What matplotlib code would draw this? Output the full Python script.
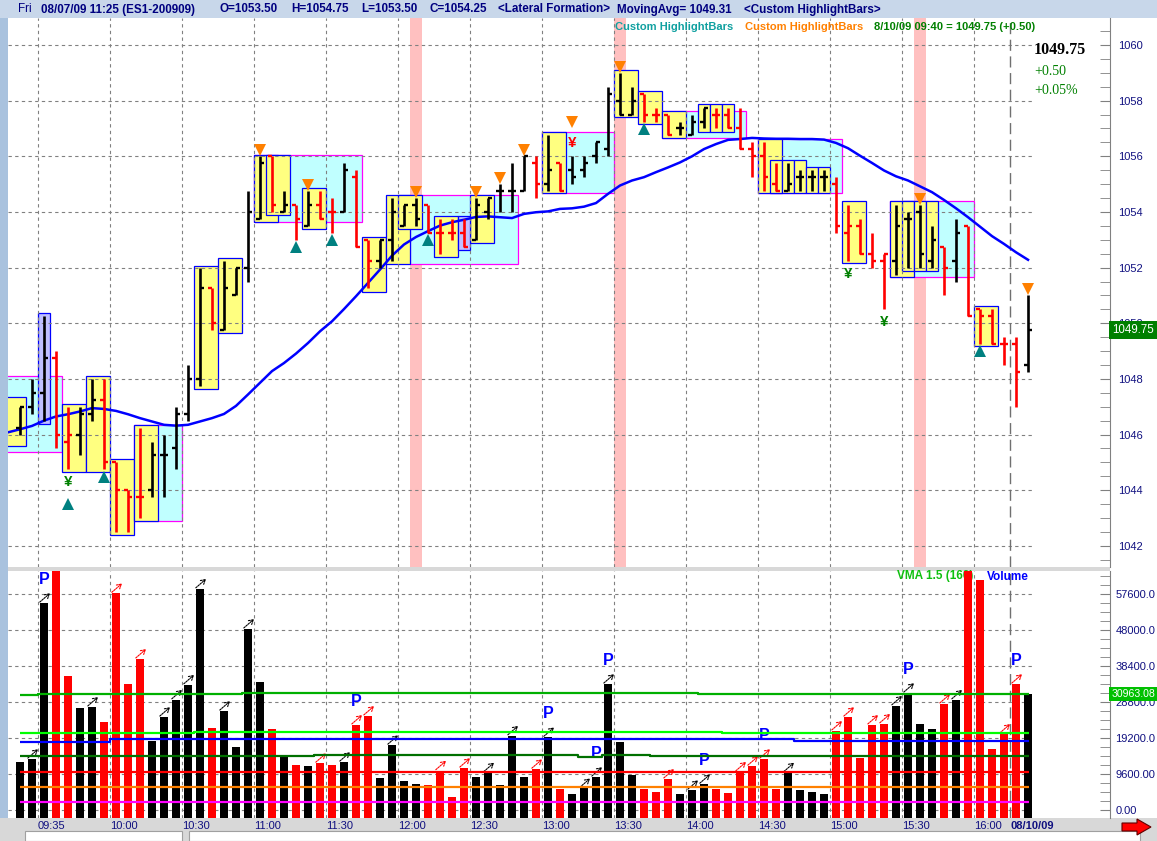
import matplotlib.pyplot as plt
import numpy as np
from matplotlib.patches import Rectangle, Polygon
from matplotlib.ticker import MultipleLocator
from matplotlib.transforms import blended_transform_factory

plt.rcParams['font.family'] = ['Liberation Sans', 'DejaVu Sans']

# ---- ES1-200909, 5 min bars (bar 0 .. 84) ----
opens = [1046.25, 1047.0, 1047.5, 1048.75, 1045.75, 1046.0, 1046.75, 1047.25, 1045.0, 1044.0,
         1043.75, 1044.0, 1045.25, 1045.5, 1046.75, 1048.0, 1051.25, 1049.75, 1051.0, 1052.0,
         1053.75, 1056.0, 1054.0, 1054.25, 1053.5, 1054.25, 1054.0, 1054.0, 1055.25, 1053.0,
         1052.25, 1053.0, 1053.5, 1054.25, 1054.25, 1053.25, 1053.25, 1053.25, 1053.0, 1054.0,
         1054.75, 1054.75, 1054.75, 1055.75, 1055.0, 1055.75, 1055.5, 1055.5, 1056.0, 1056.25,
         1058.0, 1057.5, 1058.25, 1057.5, 1057.5, 1057.0, 1056.75, 1057.25, 1057.5, 1057.5,
         1057.0, 1056.25, 1056.0, 1055.0, 1054.75, 1055.25, 1055.25, 1055.25, 1055.0, 1053.25,
         1053.5, 1052.5, 1052.25, 1052.25, 1053.75, 1054.0, 1052.25, 1052.75, 1052.25, 1053.5,
         1050.5, 1050.25, 1049.25, 1049.25, 1048.5]
highs = [1047.0, 1048.0, 1050.25, 1049.0, 1047.0, 1047.0, 1048.0, 1048.0, 1045.0, 1044.0,
         1046.25, 1045.75, 1046.0, 1047.0, 1048.5, 1052.0, 1051.25, 1052.25, 1052.0, 1054.75,
         1056.0, 1056.0, 1054.75, 1054.25, 1054.75, 1054.75, 1054.5, 1055.75, 1055.5, 1053.0,
         1053.0, 1054.5, 1054.25, 1054.5, 1054.25, 1053.75, 1053.75, 1053.75, 1054.5, 1054.5,
         1055.0, 1055.75, 1056.0, 1056.0, 1056.75, 1055.75, 1056.0, 1056.0, 1056.5, 1058.5,
         1059.0, 1058.5, 1058.25, 1057.75, 1057.5, 1057.25, 1057.5, 1057.75, 1057.75, 1057.75,
         1057.75, 1056.5, 1056.5, 1055.75, 1055.75, 1055.5, 1055.5, 1055.5, 1055.25, 1054.25,
         1053.75, 1053.25, 1052.5, 1054.25, 1054.0, 1054.25, 1053.5, 1052.75, 1053.75, 1053.5,
         1050.5, 1050.5, 1049.5, 1049.5, 1051.0]
lows = [1046.0, 1046.75, 1046.5, 1045.5, 1044.75, 1045.25, 1046.5, 1044.75, 1042.5, 1042.5,
        1043.0, 1043.75, 1043.75, 1044.75, 1046.5, 1047.75, 1049.75, 1049.75, 1051.0, 1051.5,
        1053.75, 1054.0, 1054.0, 1053.0, 1053.5, 1053.75, 1053.25, 1054.0, 1052.75, 1051.25,
        1052.0, 1052.25, 1053.5, 1053.5, 1053.25, 1052.5, 1053.0, 1052.75, 1053.0, 1053.75,
        1054.0, 1054.0, 1054.75, 1054.5, 1054.75, 1054.75, 1055.0, 1055.25, 1055.75, 1056.0,
        1057.5, 1057.5, 1057.25, 1057.25, 1056.75, 1056.75, 1056.75, 1057.0, 1057.0, 1057.0,
        1056.25, 1055.25, 1054.75, 1054.75, 1054.75, 1054.75, 1054.75, 1054.75, 1053.25, 1052.25,
        1052.5, 1052.0, 1050.5, 1051.75, 1052.0, 1052.0, 1052.0, 1051.0, 1051.5, 1050.25,
        1049.25, 1049.25, 1048.5, 1047.0, 1048.25]
closes = [1047.0, 1047.5, 1048.75, 1046.0, 1046.0, 1046.75, 1047.25, 1045.0, 1044.0, 1043.75,
          1043.75, 1045.25, 1045.25, 1046.75, 1048.0, 1051.25, 1050.0, 1051.25, 1052.0, 1054.0,
          1055.75, 1054.25, 1054.25, 1053.75, 1054.25, 1053.75, 1054.0, 1055.5, 1052.75, 1052.25,
          1053.0, 1054.0, 1054.25, 1053.75, 1053.25, 1053.25, 1053.25, 1052.75, 1054.25, 1054.5,
          1054.75, 1054.75, 1056.0, 1055.0, 1055.5, 1054.75, 1055.25, 1055.75, 1056.5, 1058.25,
          1057.5, 1058.0, 1057.5, 1057.5, 1056.75, 1057.0, 1057.25, 1057.75, 1057.5, 1057.0,
          1056.25, 1056.0, 1055.25, 1054.75, 1055.0, 1055.25, 1055.25, 1055.25, 1053.5, 1053.5,
          1052.5, 1052.25, 1052.5, 1053.5, 1053.75, 1052.5, 1053.0, 1052.0, 1053.25, 1050.25,
          1050.25, 1049.25, 1049.25, 1048.25, 1049.75]
# k = up tick (black), r = down tick (red)
bar_dir = ("kkkrrkkrrr" "rkkkkkrkkk" "krkrkrrkrr" "kkkkrrrrkk" "kkkrkrkkkk"
           "kkrrrkkkrr" "rrrrkkkkrr" "rrrkkkkrkr" "rrrrk")
volume = [12900, 13600, 55200, 63600, 35800, 27100, 27500, 23500, 57800, 33600,
          40300, 18500, 24800, 29400, 33400, 59000, 21800, 26400, 16800, 48300,
          34100, 21600, 14200, 12000, 11700, 12500, 12000, 12800, 22700, 25100,
          8600, 17300, 7700, 6900, 6700, 10500, 3500, 11200, 8800, 10000,
          6700, 19800, 8800, 10900, 19400, 5600, 4300, 5800, 8800, 33600,
          18200, 9300, 5600, 4800, 8300, 4300, 5300, 6900, 5600, 4500,
          10200, 11700, 13600, 5600, 10000, 5300, 4800, 4300, 21100, 24800,
          14000, 22700, 23000, 27800, 31200, 23000, 21600, 28300, 29400, 64500,
          61400, 16300, 20300, 33600, 31000]
# moving average, starting one bar before bar 0
mov_avg = [1046.08,
           1046.19, 1046.31, 1046.50, 1046.65, 1046.73, 1046.83, 1046.95, 1046.92, 1046.85, 1046.73,
           1046.59, 1046.47, 1046.35, 1046.32, 1046.35, 1046.47, 1046.59, 1046.74, 1047.03, 1047.44,
           1047.86, 1048.28, 1048.57, 1048.91, 1049.29, 1049.71, 1050.07, 1050.51, 1050.97, 1051.45,
           1051.93, 1052.43, 1052.83, 1053.10, 1053.31, 1053.51, 1053.63, 1053.72, 1053.82, 1053.84,
           1053.81, 1053.78, 1053.93, 1053.99, 1054.02, 1054.11, 1054.13, 1054.19, 1054.32, 1054.65,
           1054.95, 1055.13, 1055.25, 1055.43, 1055.60, 1055.78, 1056.00, 1056.26, 1056.44, 1056.59,
           1056.62, 1056.66, 1056.64, 1056.63, 1056.63, 1056.62, 1056.62, 1056.60, 1056.48, 1056.29,
           1056.02, 1055.76, 1055.49, 1055.28, 1055.13, 1054.92, 1054.71, 1054.43, 1054.13, 1053.81,
           1053.47, 1053.13, 1052.85, 1052.55, 1052.28]

# highlight boxes: (first bar, last bar, low, high)
cyan_boxes = [(-1, 3, 1045.36, 1048.1), (10, 13, 1042.9, 1046.35), (20, 28, 1053.64, 1056.06),
              (33, 41, 1052.13, 1054.62), (44, 49, 1054.67, 1056.86), (54, 60, 1056.65, 1057.62),
              (62, 68, 1054.68, 1056.62), (73, 79, 1051.65, 1054.38)]
yellow_boxes = [(-1, 0, 1045.6, 1047.34), (4, 5, 1044.65, 1047.09), (6, 7, 1044.65, 1048.1),
                (8, 9, 1042.39, 1045.11), (10, 11, 1042.9, 1046.35), (15, 16, 1047.64, 1052.07),
                (17, 18, 1049.65, 1052.35), (20, 21, 1053.64, 1056.06), (21, 22, 1053.89, 1056.06),
                (24, 25, 1053.39, 1054.86), (29, 30, 1051.13, 1053.1), (31, 32, 1052.13, 1054.62),
                (32, 33, 1053.39, 1054.62), (35, 36, 1052.38, 1053.87), (38, 39, 1052.87, 1054.62),
                (44, 45, 1054.67, 1056.86), (50, 51, 1057.4, 1059.11), (52, 53, 1057.16, 1058.36),
                (54, 55, 1056.65, 1057.62), (57, 57, 1056.89, 1057.88), (58, 58, 1056.89, 1057.88),
                (59, 59, 1056.89, 1057.88), (62, 63, 1054.68, 1056.62), (63, 63, 1054.68, 1055.86),
                (64, 64, 1054.68, 1055.86), (65, 65, 1054.68, 1055.86), (66, 66, 1054.68, 1055.6),
                (67, 67, 1054.68, 1055.6), (69, 70, 1052.17, 1054.38), (73, 74, 1051.65, 1054.38),
                (74, 74, 1051.89, 1054.38), (75, 75, 1051.89, 1054.38), (76, 76, 1051.89, 1054.38),
                (80, 81, 1049.17, 1050.61)]
lavender_boxes = [(2, 2, 1046.37, 1050.36), (37, 37, 1052.62, 1053.87)]
pink_bars = [33, 50, 75]
tri_down_bars = [20, 24, 33, 38, 40, 42, 46, 50, 75, 84]
tri_up_bars = [4, 7, 23, 26, 34, 52, 80]
yen_below_bars = [4, 69, 72]
yen_above_bars = [46]

arrow_bars = [1, 2, 6, 8, 10, 12, 13, 14, 15, 17, 19, 25, 27, 28, 29, 31, 35, 37, 39, 41, 43, 44,
              47, 48, 49, 54, 56, 57, 60, 61, 62, 64, 68, 69, 71, 72, 73, 74, 77, 78, 82, 83]
p_bars = [2, 28, 44, 48, 49, 57, 62, 74, 83]

# volume average bands (step start bar, value)
vma_green = [(0, 30700), (1.5, 31050), (18.5, 31250), (56.5, 30950), (68.5, 30800), (80.5, 30963)]
vma_lime = [(0, 20500), (14.5, 20900), (58.5, 20550)]
vma_blue = [(0, 18200), (7.5, 18900), (64.5, 18300)]
vma_dkgreen = [(0, 14400), (24.5, 14700), (46.5, 14150), (48.5, 14700), (52.5, 14400)]
vma_red = [(0, 10200), (74.5, 10050)]
vma_orange = [(0, 6100)]
vma_magenta = [(0, 2050)]

time_grid = [1.5 + 6 * k for k in range(14)]
time_labels = ['09:35', '10:00', '10:30', '11:00', '11:30', '12:00', '12:30', '13:00',
               '13:30', '14:00', '14:30', '15:00', '15:30', '16:00']
day_break = 82.5
price_ticks = list(range(1042, 1061, 2))
vol_ticks = [0, 9600, 19200, 28800, 38400, 48000, 57600]
vol_tick_labels = ['0.00', '9600.00', '19200.0', '28800.0', '38400.0', '48000.0', '57600.0']

# ---- figure ----
W, H = 1157, 841
fig = plt.figure(figsize=(W / 100, H / 100), dpi=100, facecolor='#d8d8d8')


def fig_rect(x0, y0, x1, y1, **kw):
    fig.add_artist(Rectangle((x0 / W, 1 - y1 / H), (x1 - x0) / W, (y1 - y0) / H,
                             transform=fig.transFigure, **kw))


fig_rect(0, 0, W, 18, facecolor='#c8d7ea', edgecolor='none', zorder=-5)
fig_rect(1110, 18, W, 818, facecolor='white', edgecolor='none', zorder=-5)
fig_rect(0, 18, 8, 818, facecolor='#a9c2de', edgecolor='none', zorder=-5)
fig_rect(25, 831, 182, 841, facecolor='white', edgecolor='#a0a0a0', lw=0.8, zorder=-4)
fig_rect(189, 831, 1140, 841, facecolor='white', edgecolor='#a0a0a0', lw=0.8, zorder=-4)

ax = fig.add_axes([8 / W, 1 - 567 / H, 1102 / W, 549 / H])
axv = fig.add_axes([8 / W, 1 - 818 / H, 1102 / W, 247 / H])

x = np.arange(len(closes))
cols = ['black' if d == 'k' else '#ff0000' for d in bar_dir]
xmin, xmax = -1.0, 90.83
grid_end = 84.3

# ---- price panel ----
ax.set_xlim(xmin, xmax)
ax.set_ylim(1041.24, 1060.97)
for b in pink_bars:
    ax.axvspan(b - 0.5, b + 0.5, color='#ffc0c0', lw=0, zorder=1)
for i0, i1, lo, hi in cyan_boxes:
    ax.add_patch(Rectangle((i0 - 0.5, lo), i1 - i0 + 1, hi - lo, facecolor='#c0ffff',
                           edgecolor='#ff00ff', lw=0.9, zorder=2))
for i0, i1, lo, hi in yellow_boxes:
    ax.add_patch(Rectangle((i0 - 0.5, lo), i1 - i0 + 1, hi - lo, facecolor='#ffff80',
                           edgecolor='#0000ff', lw=0.9, zorder=3))
for i0, i1, lo, hi in lavender_boxes:
    ax.add_patch(Rectangle((i0 - 0.5, lo), i1 - i0 + 1, hi - lo, facecolor='#c0c0ff',
                           edgecolor='#0000ff', lw=0.9, zorder=3))

ax.hlines(price_ticks, xmin, grid_end, colors='#808080', lw=0.8, linestyles=(0, (3, 3)), zorder=4)
ax.vlines(time_grid, 1041.24, 1060.97, colors='#808080', lw=0.8, linestyles=(0, (3, 3)), zorder=4)
ax.vlines([day_break], 1041.24, 1060.97, colors='#707070', lw=1.0, linestyles=(0, (8, 4)), zorder=4)

ax.plot(np.arange(-1, len(closes)), mov_avg, color='#0000ff', lw=1.8, zorder=5)

ax.vlines(x, lows, highs, colors=cols, lw=1.9, zorder=6)
ax.hlines(opens, x - 0.36, x, colors=cols, lw=1.7, zorder=6)
ax.hlines(closes, x, x + 0.36, colors=cols, lw=1.7, zorder=6)

for b in tri_down_bars:
    off = 1.22 if b in yen_above_bars else 0.22
    ax.plot(b, highs[b] + off, marker='v', color='#ff8000', ms=8, mew=0, ls='none', zorder=7)
for b in tri_up_bars:
    off = 1.23 if b in yen_below_bars else 0.26
    ax.plot(b, lows[b] - off, marker='^', color='#008080', ms=8, mew=0, ls='none', zorder=7)
for b in yen_below_bars:
    ax.text(b, lows[b] - 0.47, '¥', color='#008000', fontsize=11, fontweight='bold',
            ha='center', va='center', zorder=7)
for b in yen_above_bars:
    ax.text(b, highs[b] + 0.46, '¥', color='#ff0000', fontsize=11, fontweight='bold',
            ha='center', va='center', zorder=7)

ax.set_xticks([])
ax.yaxis.tick_right()
ax.set_yticks(price_ticks)
ax.yaxis.set_minor_locator(MultipleLocator(0.5))
ax.tick_params(axis='y', which='both', direction='in', length=7, color='#808080',
               labelcolor='#101080', labelsize=8, pad=6)
for s in ['left', 'top', 'bottom']:
    ax.spines[s].set_visible(False)
ax.spines['right'].set_color('#808080')
ax.spines['right'].set_linewidth(0.8)

trans_p = blended_transform_factory(ax.transAxes, ax.transData)
ax.text(1.002, closes[-1], '1049.75', transform=trans_p, color='white', fontsize=8.3,
        va='center', ha='left', zorder=10, clip_on=False,
        bbox=dict(facecolor='#008000', edgecolor='none', boxstyle='square,pad=0.28'))

# ---- volume panel ----
vbot, vtop = -2133, 63733
axv.set_xlim(xmin, xmax)
axv.set_ylim(vbot, vtop)
axv.hlines(vol_ticks, xmin, grid_end, colors='#808080', lw=0.8, linestyles=(0, (3, 3)), zorder=1)
axv.vlines(time_grid, vbot, vtop, colors='#808080', lw=0.8, linestyles=(0, (3, 3)), zorder=1)
axv.vlines([day_break], vbot, vtop, colors='#707070', lw=1.0, linestyles=(0, (8, 4)), zorder=1)

axv.text(897 / W, 1 - 576.5 / H, 'VMA 1.5 (160)', transform=fig.transFigure, color='#10c010',
         fontsize=8.5, fontweight='bold', va='center', ha='left', zorder=1.5)
axv.text(987 / W, 1 - 576.5 / H, 'Volume', transform=fig.transFigure, color='#0000ff',
         fontsize=8.5, fontweight='bold', va='center', ha='left', zorder=1.5)

vol = np.array(volume, dtype=float)
axv.bar(x, vol - vbot, bottom=vbot, width=0.62, color=cols, zorder=2)

for b in arrow_bars:
    axv.annotate('', xy=(b + 0.5, vol[b] + 2600), xytext=(b - 0.35, vol[b] + 250),
                 arrowprops=dict(arrowstyle='->,head_length=0.3,head_width=0.18', color=cols[b],
                                 lw=0.8, linestyle=(0, (1.5, 1)), shrinkA=0, shrinkB=0),
                 zorder=3)
for b in p_bars:
    axv.text(b, vol[b] + 6300, 'P', color='#0000ff', fontsize=11.5, fontweight='bold',
             ha='center', va='center', zorder=3)


def step_xy(steps, x_end=84.1):
    xs, ys = [], []
    for k, (x0, v) in enumerate(steps):
        x1 = steps[k + 1][0] if k + 1 < len(steps) else x_end
        xs += [x0, x1]
        ys += [v, v]
    return xs, ys


for steps, c in [(vma_green, '#00b000'), (vma_lime, '#00ff00'), (vma_blue, '#0000ff'),
                 (vma_dkgreen, '#007000'), (vma_red, '#ff0000'), (vma_orange, '#ff8000'),
                 (vma_magenta, '#ff00ff')]:
    sx, sy = step_xy(steps)
    axv.plot(sx, sy, color=c, lw=1.6, zorder=4, solid_capstyle='butt')

axv.yaxis.tick_right()
axv.set_yticks(vol_ticks)
axv.set_yticklabels(vol_tick_labels)
axv.yaxis.set_minor_locator(MultipleLocator(2400))
axv.tick_params(axis='y', which='both', direction='in', length=7, color='#808080',
                labelcolor='#101080', labelsize=8, pad=4)
axv.set_xticks(time_grid + [day_break])
axv.set_xticklabels(time_labels + ['08/10/09'])
axv.tick_params(axis='x', length=0, pad=2, labelsize=8, labelcolor='#101080')
for lbl in axv.get_xticklabels():
    lbl.set_horizontalalignment('left')
axv.get_xticklabels()[-1].set_fontweight('bold')
for s in ['left', 'top', 'bottom']:
    axv.spines[s].set_visible(False)
axv.spines['right'].set_color('#808080')
axv.spines['right'].set_linewidth(0.8)

trans_v = blended_transform_factory(axv.transAxes, axv.transData)
axv.text(1.001, 30963.08, '30963.08', transform=trans_v, color='white', fontsize=7.6,
         va='center', ha='left', zorder=10, clip_on=False,
         bbox=dict(facecolor='#00c000', edgecolor='none', boxstyle='square,pad=0.18'))

# ---- header and annotations ----
navy = '#000080'
header = [(18, 'Fri', 'normal'), (41, '08/07/09 11:25 (ES1-200909)', 'bold'),
          (220, 'O=1053.50', 'bold'), (291, 'H=1054.75', 'bold'), (361, 'L=1053.50', 'bold'),
          (430, 'C=1054.25', 'bold'), (498, '<Lateral Formation>', 'bold'),
          (617, 'MovingAvg= 1049.31', 'bold'), (744, '<Custom HighlightBars>', 'bold')]
for hx, s, wgt in header:
    fig.text(hx / W, 1 - 9.5 / H, s, color=navy, fontsize=8.4, fontweight=wgt,
             va='center', ha='left')

fig.text(615 / W, 1 - 26.5 / H, 'Custom HighlightBars', color='#10a0a0', fontsize=8,
         fontweight='bold', va='center', ha='left')
fig.text(745 / W, 1 - 26.5 / H, 'Custom HighlightBars', color='#ff8000', fontsize=8,
         fontweight='bold', va='center', ha='left')
fig.text(874 / W, 1 - 26.5 / H, '8/10/09 09:40 = 1049.75 (+0.50)', color='#008000', fontsize=8,
         fontweight='bold', va='center', ha='left')

fig.text(1034 / W, 1 - 49.5 / H, '1049.75', color='black', fontsize=11.5, fontweight='bold',
         family='Liberation Serif', va='center', ha='left')
fig.text(1034 / W, 1 - 71.5 / H, '+0.50', color='#008000', fontsize=10,
         family='Liberation Serif', va='center', ha='left')
fig.text(1034 / W, 1 - 90.5 / H, '+0.05%', color='#008000', fontsize=10,
         family='Liberation Serif', va='center', ha='left')

arrow_px = [(1122, 823), (1137, 823), (1137, 819), (1151, 827), (1137, 835), (1137, 831), (1122, 831)]
fig.add_artist(Polygon([(px / W, 1 - py / H) for px, py in arrow_px], closed=True,
                       transform=fig.transFigure, facecolor='#ff0000', edgecolor='#600000',
                       lw=0.8, zorder=5))

fig.savefig('out.png', dpi=100, facecolor=fig.get_facecolor())
